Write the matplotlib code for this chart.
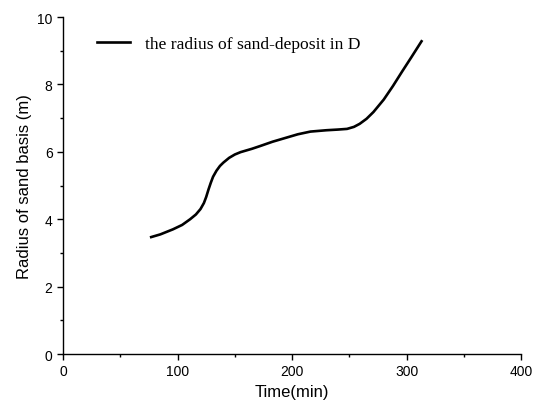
import matplotlib
matplotlib.use("Agg")
import matplotlib.pyplot as plt
from matplotlib.ticker import MultipleLocator

# values
time_min = [77, 85, 96, 104, 111, 116, 120, 123, 125, 127, 129, 131, 134, 137, 140, 145, 150, 155, 165,
            172, 183, 195, 205, 216, 230, 240, 248, 254, 259, 265, 271, 280, 288, 296, 304, 313]
radius_m = [3.47, 3.55, 3.70, 3.83, 4.00, 4.14, 4.30, 4.48, 4.66, 4.88, 5.08, 5.26, 5.44, 5.58, 5.68,
            5.82, 5.92, 5.99, 6.09, 6.17, 6.30, 6.42, 6.52, 6.60, 6.64, 6.66, 6.68, 6.74, 6.83,
            6.98, 7.18, 7.55, 7.95, 8.38, 8.80, 9.28]

plt.rcParams['font.family'] = ['Liberation Sans', 'DejaVu Sans']

fig = plt.figure(figsize=(5.34, 4.14), dpi=100)
ax = fig.add_axes([0.118, 0.1425, 0.858, 0.814])

ax.plot(time_min, radius_m, color="black", linewidth=1.9,
        label="the radius of sand-deposit in D")

ax.set_xlim(0, 400)
ax.set_ylim(0, 10)
ax.xaxis.set_major_locator(MultipleLocator(100))
ax.xaxis.set_minor_locator(MultipleLocator(50))
ax.yaxis.set_major_locator(MultipleLocator(2))
ax.yaxis.set_minor_locator(MultipleLocator(1))
ax.spines["top"].set_visible(False)
ax.spines["right"].set_visible(False)
ax.spines["left"].set_linewidth(1.0)
ax.spines["bottom"].set_linewidth(1.0)
ax.tick_params(which="major", direction="out", length=4, width=1.0, labelsize=10)
ax.tick_params(which="minor", direction="out", length=2.5, width=1.0)

ax.set_xlabel("Time(min)", fontsize=12)
ax.set_ylabel("Radius of sand basis (m)", fontsize=12)

leg = ax.legend(loc="upper left", frameon=False, handlelength=1.9, handletextpad=0.85,
                bbox_to_anchor=(0.04, 0.99),
                prop={"family": ["Liberation Serif", "DejaVu Serif"], "size": 12.6})

fig.savefig("out.png", dpi=100)
